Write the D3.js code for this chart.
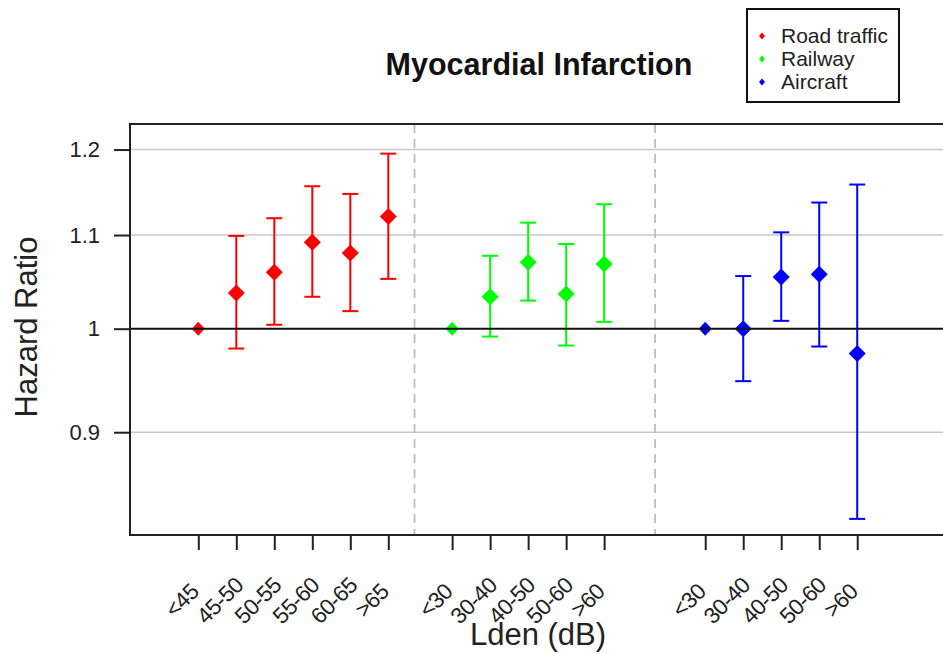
<!DOCTYPE html>
<html>
<head>
<meta charset="utf-8">
<script src="https://cdn.jsdelivr.net/npm/d3@7"></script>
<style>
  html, body { margin: 0; padding: 0; background: #fff; }
  svg { display: block; font-family: "Liberation Sans", Arial, sans-serif; }
</style>
</head>
<body>
<svg id="chart" width="943" height="654"></svg>
<script>
// ---- data ----
const groups = ["Road traffic", "Railway", "Aircraft"];
const roadLabels = ["<45", "45-50", "50-55", "55-60", "60-65", ">65"];
const roadHR  = [1.000, 1.037, 1.059, 1.092, 1.080, 1.121];
const roadLo  = [null, 0.980, 1.004, 1.033, 1.018, 1.052];
const roadHi  = [null, 1.099, 1.119, 1.156, 1.147, 1.195];

const railLabels = ["<30", "30-40", "40-50", "50-60", ">60"];
const railHR  = [1.000, 1.033, 1.070, 1.036, 1.068];
const railLo  = [null, 0.992, 1.029, 0.983, 1.007];
const railHi  = [null, 1.077, 1.114, 1.090, 1.135];

const airLabels = ["<30", "30-40", "40-50", "50-60", ">60"];
const airHR  = [1.000, 1.000, 1.054, 1.057, 0.975];
const airLo  = [null, 0.948, 1.008, 0.982, 0.824];
const airHi  = [null, 1.055, 1.103, 1.137, 1.158];

const yTicks = [0.9, 1, 1.1, 1.2];
const yTickLabels = ["0.9", "1", "1.1", "1.2"];
const colors = ["#ff0000", "#00ff00", "#0000ff"];

const title = "Myocardial Infarction";
const xTitle = "Lden (dB)";
const yTitle = "Hazard Ratio";

// ---- layout ----
const svg = d3.select("#chart");
const plot = { left: 130, top: 124, right: 948, bottom: 535 };
const groupStart = [1, 7.68, 14.34];
const separators = [6.69, 13.02];

const x = d3.scaleLinear().domain([1, 6]).range([198.3, 388.3]);
const y = d3.scaleLog().domain([0.8106, 1.2316]).range([plot.bottom, plot.top]);

const series = [
  { labels: roadLabels, hr: roadHR, lo: roadLo, hi: roadHi },
  { labels: railLabels, hr: railHR, lo: railLo, hi: railHi },
  { labels: airLabels,  hr: airHR,  lo: airLo,  hi: airHi }
];
const points = [];
series.forEach((s, g) => {
  s.labels.forEach((lab, i) => {
    points.push({ g, i, label: lab, pos: groupStart[g] + i,
                  hr: s.hr[i], lo: s.lo[i], hi: s.hi[i], color: colors[g] });
  });
});

// grid lines (grey) at non-1 ticks
svg.append("g").selectAll("line")
  .data(yTicks.filter(t => t !== 1))
  .join("line")
  .attr("x1", plot.left).attr("x2", plot.right)
  .attr("y1", d => y(d)).attr("y2", d => y(d))
  .attr("stroke", "#c8c8c8").attr("stroke-width", 1.6);

// dashed separators
svg.append("g").selectAll("line")
  .data(separators)
  .join("line")
  .attr("x1", d => x(d)).attr("x2", d => x(d))
  .attr("y1", plot.top).attr("y2", plot.bottom)
  .attr("stroke", "#bdbdbd").attr("stroke-width", 1.8)
  .attr("stroke-dasharray", "9,6");

// error bars
const eb = svg.append("g").selectAll("g")
  .data(points.filter(p => p.lo != null))
  .join("g")
  .attr("stroke", d => d.color).attr("stroke-width", 2);
eb.append("line")
  .attr("x1", d => x(d.pos)).attr("x2", d => x(d.pos))
  .attr("y1", d => y(d.lo)).attr("y2", d => y(d.hi));
eb.append("line")
  .attr("x1", d => x(d.pos) - 8).attr("x2", d => x(d.pos) + 8)
  .attr("y1", d => y(d.lo)).attr("y2", d => y(d.lo));
eb.append("line")
  .attr("x1", d => x(d.pos) - 8).attr("x2", d => x(d.pos) + 8)
  .attr("y1", d => y(d.hi)).attr("y2", d => y(d.hi));

// diamonds
function diamond(w, h) {
  return `M0,${-h} L${w},0 L0,${h} L${-w},0 Z`;
}
svg.append("g").selectAll("path")
  .data(points)
  .join("path")
  .attr("transform", d => `translate(${x(d.pos)},${y(d.hr)})`)
  .attr("d", d => d.lo == null ? diamond(6.5, 7) : diamond(8.5, 8.5))
  .attr("fill", d => d.color);

// reference line at 1
svg.append("line")
  .attr("x1", plot.left).attr("x2", plot.right)
  .attr("y1", y(1)).attr("y2", y(1))
  .attr("stroke", "#111").attr("stroke-width", 2);

// frame
svg.append("rect")
  .attr("x", plot.left).attr("y", plot.top)
  .attr("width", plot.right - plot.left).attr("height", plot.bottom - plot.top)
  .attr("fill", "none").attr("stroke", "#222").attr("stroke-width", 2);

// y axis
const yAxis = d3.axisLeft(y).tickValues(yTicks)
  .tickFormat((d, i) => yTickLabels[i]).tickSize(16).tickPadding(14);
const gy = svg.append("g").attr("transform", `translate(${plot.left},0)`).call(yAxis);
gy.select(".domain").remove();
gy.selectAll(".tick line").attr("stroke", "#222").attr("stroke-width", 2);
gy.selectAll(".tick text").attr("font-size", 22).attr("fill", "#222")
  .attr("font-family", "Liberation Sans, Arial, sans-serif");

// x axis ticks
const xTicks = points.map(p => p.pos);
const xAxis = d3.axisBottom(x).tickValues(xTicks).tickFormat("").tickSize(15);
const gx = svg.append("g").attr("transform", `translate(0,${plot.bottom})`).call(xAxis);
gx.select(".domain").remove();
gx.selectAll(".tick line").attr("stroke", "#222").attr("stroke-width", 2);

// x tick labels rotated
svg.append("g").selectAll("text")
  .data(points)
  .join("text")
  .attr("transform", d => `translate(${x(d.pos) - 11},606) rotate(-45)`)
  .attr("text-anchor", "middle")
  .attr("font-size", 22.5)
  .attr("letter-spacing", -0.6)
  .attr("fill", "#222")
  .text(d => d.label);

// titles
svg.append("text")
  .attr("x", 539).attr("y", 75)
  .attr("text-anchor", "middle")
  .attr("font-size", 30.5).attr("font-weight", "bold").attr("fill", "#111")
  .text(title);

svg.append("text")
  .attr("x", 538).attr("y", 645)
  .attr("text-anchor", "middle")
  .attr("font-size", 31).attr("fill", "#222")
  .text(xTitle);

svg.append("text")
  .attr("transform", "translate(37,327) rotate(-90)")
  .attr("text-anchor", "middle")
  .attr("font-size", 31).attr("fill", "#222")
  .text(yTitle);

// legend
const lg = svg.append("g");
lg.append("rect")
  .attr("x", 747).attr("y", 9).attr("width", 152).attr("height", 93)
  .attr("fill", "#fff").attr("stroke", "#111").attr("stroke-width", 2);
const items = lg.selectAll("g.item")
  .data(groups)
  .join("g")
  .attr("class", "item")
  .attr("transform", (d, i) => `translate(0,${36 + i * 23})`);
items.append("path")
  .attr("transform", "translate(762,0)")
  .attr("d", diamond(3, 3.5))
  .attr("fill", (d, i) => colors[i]);
items.append("text")
  .attr("x", 781).attr("y", 7)
  .attr("font-size", 21).attr("fill", "#222")
  .text(d => d);
</script>
</body>
</html>
